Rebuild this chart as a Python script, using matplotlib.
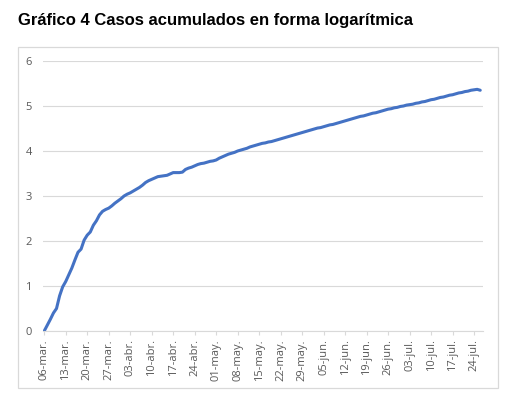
import numpy as np
import matplotlib.pyplot as plt
from matplotlib.patches import Rectangle

# log10 de casos acumulados, un valor por dia desde 06-mar
dias = np.arange(143)
log_casos = [
    0.00, 0.13, 0.26, 0.40, 0.50, 0.78, 0.98, 1.10, 1.25, 1.40,
    1.58, 1.75, 1.82, 2.02, 2.13, 2.20, 2.35, 2.45, 2.58, 2.66,
    2.70, 2.73, 2.78, 2.84, 2.89, 2.94, 3.00, 3.04, 3.07, 3.11,
    3.15, 3.19, 3.24, 3.30, 3.34, 3.37, 3.40, 3.43, 3.44, 3.45,
    3.46, 3.49, 3.52, 3.52, 3.52, 3.53, 3.59, 3.62, 3.64, 3.67,
    3.70, 3.72, 3.73, 3.75, 3.77, 3.78, 3.80, 3.84, 3.87, 3.90,
    3.93, 3.95, 3.97, 4.00, 4.02, 4.04, 4.06, 4.09, 4.11, 4.13,
    4.15, 4.17, 4.18, 4.20, 4.21, 4.23, 4.25, 4.27, 4.29, 4.31,
    4.33, 4.35, 4.37, 4.39, 4.41, 4.43, 4.45, 4.47, 4.49, 4.51,
    4.52, 4.54, 4.56, 4.58, 4.59, 4.61, 4.63, 4.65, 4.67, 4.69,
    4.71, 4.73, 4.75, 4.77, 4.78, 4.80, 4.82, 4.84, 4.85, 4.87,
    4.89, 4.91, 4.93, 4.94, 4.96, 4.97, 4.99, 5.00, 5.02, 5.03,
    5.04, 5.06, 5.07, 5.09, 5.10, 5.12, 5.14, 5.15, 5.17, 5.19,
    5.20, 5.22, 5.24, 5.25, 5.27, 5.29, 5.30, 5.32, 5.33, 5.35,
    5.36, 5.37, 5.35,
]

tick_dias = np.arange(0, 141, 7)
tick_labels = ['06-mar.', '13-mar.', '20-mar.', '27-mar.', '03-abr.', '10-abr.',
               '17-abr.', '24-abr.', '01-may.', '08-may.', '15-may.', '22-may.',
               '29-may.', '05-jun.', '12-jun.', '19-jun.', '26-jun.', '03-jul.',
               '10-jul.', '17-jul.', '24-jul.']

gris = '#595959'
linea = '#d9d9d9'

fig = plt.figure(figsize=(5.1, 3.99), dpi=100)
fig.patches.append(Rectangle((18/510, 1-388/399), 480/510, 341/399, transform=fig.transFigure,
                             fill=False, edgecolor=linea, linewidth=0.9))

fig.text(18/510, 1-21/399, 'Gráfico 4 Casos acumulados en forma logarítmica',
         fontsize=12, fontweight='bold', family='Liberation Sans', va='center', ha='left')

ax = fig.add_axes([43/510, 1-331/399, 440/510, 270/399])
ax.plot(dias, log_casos, color='#4472C4', linewidth=2.2, solid_capstyle='round')

ax.set_ylim(0, 6)
ax.set_xlim(-0.4, 142.9)
ax.set_yticks(range(7))
ax.grid(axis='y', color=linea, linewidth=0.8)
ax.set_axisbelow(True)
for s in ['top', 'right', 'left']:
    ax.spines[s].set_visible(False)
ax.spines['bottom'].set_color(linea)
ax.spines['bottom'].set_linewidth(0.8)

ax.set_xticks(tick_dias)
ax.set_xticklabels(tick_labels, rotation=90, fontsize=8, color=gris, family='Open Sans')
ax.tick_params(axis='x', length=3, color=linea, pad=3)
ax.tick_params(axis='y', length=0, labelsize=8, labelcolor=gris, pad=8)
for t in ax.get_yticklabels():
    t.set_family('Open Sans')

fig.savefig('out.png', dpi=100)
